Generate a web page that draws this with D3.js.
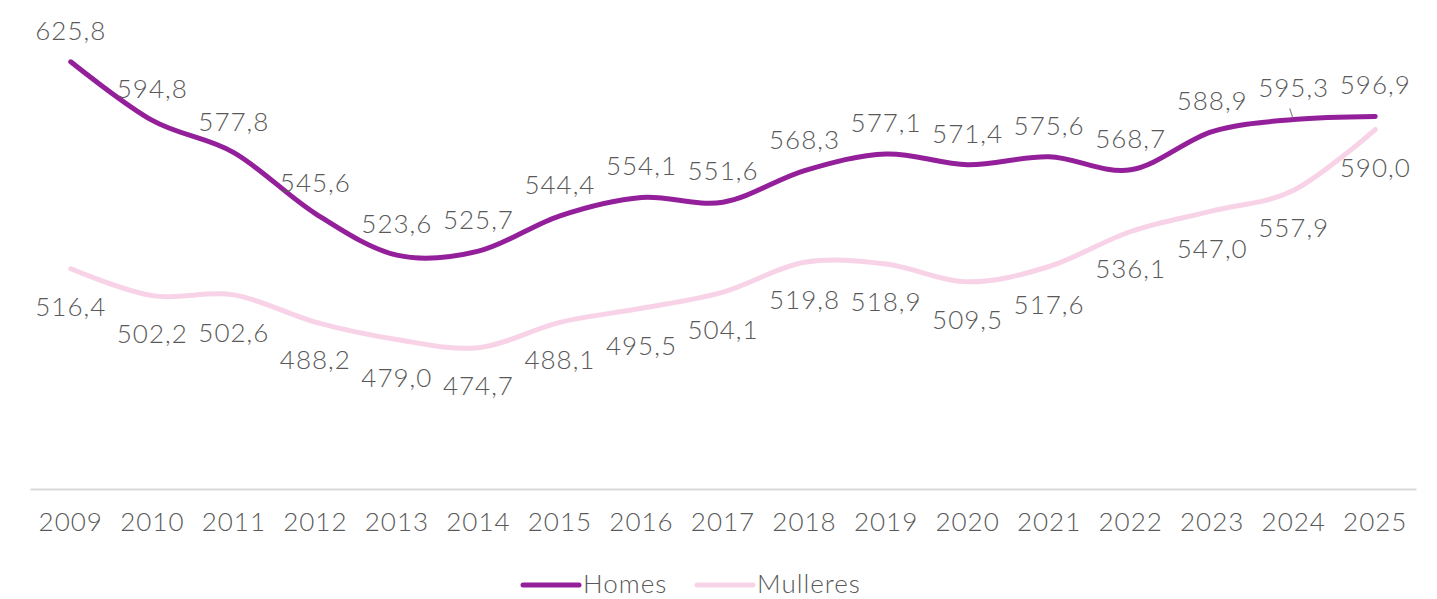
<!DOCTYPE html>
<html lang="gl">
	<head>
		<meta charset="utf-8">
		<title>homes e mulleres</title>
		<script type="text/javascript" src="https://d3js.org/d3.v7.min.js"></script>
		<style type="text/css">
            body{
                margin:0;
                background:#fff;
            }
            text{
                font-family:"Lato","DejaVu Sans",sans-serif;
                font-weight:300;
                letter-spacing:1px;
                fill:#595959;
            }
		</style>
	</head>
	<body>
        <div id="chart"></div>
		<script type="text/javascript">
            // datos
            var years = ["2009","2010","2011","2012","2013","2014","2015","2016","2017","2018","2019","2020","2021","2022","2023","2024","2025"]
            var homes = [625.8,594.8,577.8,545.6,523.6,525.7,544.4,554.1,551.6,568.3,577.1,571.4,575.6,568.7,588.9,595.3,596.9]
            var mulleres = [516.4,502.2,502.6,488.2,479.0,474.7,488.1,495.5,504.1,519.8,518.9,509.5,517.6,536.1,547.0,557.9,590.0]
            var seriesNames = ["Homes","Mulleres"]

            var w = 1437
            var h = 599
            var colors = ["#93209a","#f8d3e7"]
            var fontSize = 26

            var svg = d3.select("#chart").append("svg")
                .attr("width",w)
                .attr("height",h)

            var x = d3.scaleBand().domain(years).range([30,1416])
            var y = d3.scaleLinear().domain([400,650]).range([489,16])

            var fmt = function(v){ return d3.format(".1f")(v).replace(".",",") }

            // eixo
            var xAxis = d3.axisBottom(x).tickSize(0).tickPadding(24)
            var gx = svg.append("g").attr("transform","translate(0,489)").call(xAxis)
            gx.select(".domain").attr("stroke","#d9d9d9").attr("stroke-width",2)
            gx.selectAll("text")
                .style("font-size",fontSize+"px")
                .style("font-family",null)
                .attr("fill","#595959")

            var line = d3.line()
                .x(function(d,i){ return x(years[i])+x.bandwidth()/2 })
                .y(function(d){ return y(d) })
                .curve(d3.curveCardinal.tension(0))

            var data = [homes,mulleres]
            // pink under purple
            svg.append("path").datum(mulleres)
                .attr("d",line).attr("fill","none")
                .attr("stroke",colors[1]).attr("stroke-width",5)
                .attr("stroke-linecap","round")
            svg.append("path").datum(homes)
                .attr("d",line).attr("fill","none")
                .attr("stroke",colors[0]).attr("stroke-width",5)
                .attr("stroke-linecap","round")

            // etiquetas: homes enriba, mulleres embaixo
            var offsets = [-22,47]
            data.forEach(function(s,k){
                svg.append("g").selectAll("text")
                    .data(s).enter().append("text")
                    .attr("x",function(d,i){ return x(years[i])+x.bandwidth()/2 })
                    .attr("y",function(d){ return y(d)+offsets[k] })
                    .attr("text-anchor","middle")
                    .style("font-size",fontSize+"px")
                    .text(fmt)
            })

            // liña guía de 2024
            var gi = years.indexOf("2024")
            var gxp = x("2024")+x.bandwidth()/2
            svg.append("line")
                .attr("x1",gxp-4).attr("y1",y(homes[gi])-11)
                .attr("x2",gxp-1).attr("y2",y(homes[gi])-2)
                .attr("stroke","#8c8c8c").attr("stroke-width",1.2)

            // lenda
            var legend = svg.append("g").attr("transform","translate(523,585)")
            var lx = [0,174]
            seriesNames.forEach(function(n,i){
                legend.append("line")
                    .attr("x1",lx[i]).attr("x2",lx[i]+56)
                    .attr("y1",0).attr("y2",0)
                    .attr("stroke",colors[i]).attr("stroke-width",5)
                    .attr("stroke-linecap","round")
                legend.append("text")
                    .attr("x",lx[i]+60).attr("y",8)
                    .style("font-size",fontSize+"px")
                    .text(n)
            })
		</script>
	</body>
</html>
